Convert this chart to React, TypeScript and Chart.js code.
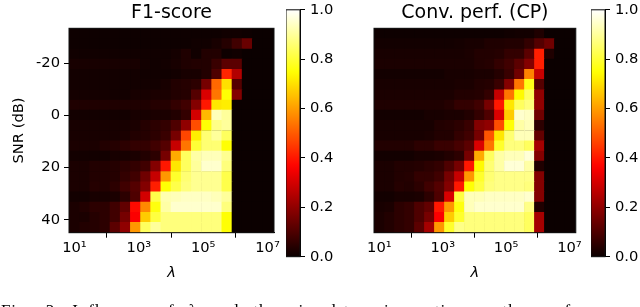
import React, { useEffect, useRef } from "react";
import { Chart, registerables } from "chart.js";
Chart.register(...registerables);

const lambdaExponents = [1, 1.316, 1.632, 1.947, 2.263, 2.579, 2.895, 3.211, 3.526, 3.842, 4.158, 4.474, 4.789, 5.105, 5.421, 5.737, 6.053, 6.368, 6.684, 7];
const snrCenters = [-31.5, -27.6, -23.6, -19.7, -15.8, -11.9, -7.9, -4, -0.1, 3.8, 7.8, 11.7, 15.6, 19.5, 23.5, 27.4, 31.3, 35.2, 39.1, 43];
const snrStep = 3.93;
const xTickValues = [1e1, 1e3, 1e5, 1e7];
const xTickLabels = ["10¹", "10³", "10⁵", "10⁷"];
const yTickValues = [-20, 0, 20, 40];
const cbarTicks = [0, 0.2, 0.4, 0.6, 0.8, 1];

const f1Rows = [
  [.005,.005,.005,.005,.005,.005,.005,.005,.005,.005,.005,.005,.005,.005,.005,.01,.01,.005,0,0],
  [.005,.005,.005,.005,.005,.005,.005,.005,.005,.005,.005,.005,.01,.01,.02,.04,.08,.14,0,0],
  [.01,.01,.01,.01,.01,.01,.01,.01,.01,.01,.015,.03,.01,.035,.035,.005,.01,0,0,0],
  [.02,.02,.02,.02,.02,.02,.02,.012,.01,.012,.02,.03,.035,.035,.07,.12,.12,0,0,0],
  [.012,.012,.012,.012,.012,.012,.012,.01,.01,.01,.012,.02,.02,.035,.1,.42,.25,0,0,0],
  [.012,.012,.012,.012,.012,.012,.012,.012,.012,.02,.035,.04,.05,.16,.52,.7,.11,0,0,0],
  [.015,.015,.015,.015,.012,.012,.02,.02,.025,.025,.035,.04,.11,.31,.54,.75,.18,0,0,0],
  [.03,.03,.03,.03,.03,.03,.03,.03,.04,.04,.06,.08,.18,.4,.71,.72,0,0,0,0],
  [.012,.012,.012,.012,.012,.012,.02,.02,.025,.025,.035,.06,.3,.64,.93,.9,0,0,0,0],
  [.02,.02,.02,.02,.02,.02,.025,.04,.05,.06,.1,.2,.48,.75,.88,.9,0,0,0,0],
  [.02,.02,.02,.02,.02,.025,.035,.04,.05,.07,.16,.47,.72,.86,.9,.84,0,0,0,0],
  [.025,.025,.025,.035,.04,.05,.06,.06,.08,.11,.28,.54,.8,.86,.86,.75,0,0,0,0],
  [.012,.012,.012,.012,.02,.02,.025,.035,.05,.16,.62,.84,.91,.93,.93,.89,0,0,0,0],
  [.025,.025,.035,.035,.04,.05,.06,.08,.18,.4,.71,.84,.9,.95,.95,.87,0,0,0,0],
  [.025,.025,.035,.035,.04,.06,.08,.15,.28,.59,.79,.86,.89,.89,.89,.82,0,0,0,0],
  [.025,.025,.04,.035,.05,.08,.11,.18,.41,.75,.82,.87,.89,.89,.89,.82,0,0,0,0],
  [.012,.012,.02,.02,.025,.05,.1,.3,.82,.92,.93,.94,.94,.94,.93,.9,0,0,0,0],
  [.025,.035,.05,.05,.08,.13,.38,.57,.76,.91,.95,.95,.95,.95,.95,.87,0,0,0,0],
  [.025,.025,.04,.05,.08,.16,.36,.67,.81,.87,.87,.87,.87,.87,.87,.75,0,0,0,0],
  [.025,.035,.04,.05,.12,.2,.59,.84,.9,.87,.87,.87,.87,.87,.87,.75,0,0,0,0],
];

const cpRows = [
  [.005,.005,.005,.005,.005,.005,.005,.005,.005,.005,.005,.005,.005,.01,.012,.012,.03,0,0,0],
  [.012,.012,.012,.012,.012,.012,.012,.012,.015,.02,.02,.03,.03,.035,.035,.06,.11,.15,0,0],
  [.02,.02,.02,.02,.02,.02,.02,.02,.02,.025,.035,.035,.04,.06,.06,.12,.41,.03,0,0],
  [.025,.025,.025,.025,.025,.025,.025,.025,.025,.025,.035,.04,.06,.08,.12,.18,.41,0,0,0],
  [.012,.012,.012,.012,.012,.012,.012,.02,.02,.02,.025,.025,.04,.07,.15,.56,.28,0,0,0],
  [.02,.02,.02,.02,.02,.02,.02,.02,.025,.025,.035,.04,.07,.18,.54,.77,.11,0,0,0],
  [.025,.025,.025,.025,.025,.025,.025,.025,.035,.035,.04,.06,.28,.54,.74,.84,.2,0,0,0],
  [.03,.03,.03,.03,.03,.03,.03,.04,.06,.06,.08,.16,.4,.71,.84,.87,.2,0,0,0],
  [.012,.012,.012,.012,.012,.02,.02,.025,.025,.035,.06,.1,.31,.67,.95,.94,.15,0,0,0],
  [.02,.02,.02,.02,.02,.02,.035,.04,.05,.07,.18,.2,.48,.75,.91,.93,.05,0,0,0],
  [.02,.02,.02,.02,.02,.025,.035,.035,.06,.08,.16,.49,.71,.86,.93,.93,.13,0,0,0],
  [.035,.035,.035,.035,.05,.05,.07,.07,.09,.12,.31,.54,.79,.87,.87,.84,.23,0,0,0],
  [.012,.012,.012,.012,.02,.02,.025,.035,.05,.16,.62,.84,.91,.93,.93,.96,.18,0,0,0],
  [.025,.025,.035,.035,.04,.05,.06,.1,.16,.4,.74,.86,.91,.96,.96,.91,.03,0,0,0],
  [.025,.025,.035,.04,.06,.06,.08,.16,.28,.59,.79,.86,.88,.88,.88,.88,.18,0,0,0],
  [.025,.025,.04,.035,.05,.08,.11,.18,.4,.75,.81,.87,.88,.88,.88,.87,.18,0,0,0],
  [.012,.012,.02,.02,.025,.05,.1,.31,.81,.93,.93,.94,.94,.94,.94,.95,.18,0,0,0],
  [.02,.025,.05,.06,.1,.13,.4,.59,.76,.93,.95,.95,.95,.95,.95,.88,.03,0,0,0],
  [.025,.035,.05,.06,.1,.16,.36,.67,.79,.87,.87,.87,.87,.87,.87,.84,.23,0,0,0],
  [.025,.035,.05,.06,.12,.23,.59,.79,.88,.87,.87,.87,.87,.87,.87,.84,.23,0,0,0],
];

const clamp01 = (v: number) => Math.max(0, Math.min(1, v));
function hot(v: number) {
  const r = clamp01(0.0416 + (v / 0.365079) * 0.9584);
  const g = clamp01((v - 0.365079) / (0.746032 - 0.365079));
  const b = clamp01((v - 0.746032) / (1 - 0.746032));
  return `rgb(${Math.round(r * 255)},${Math.round(g * 255)},${Math.round(b * 255)})`;
}

const frame = {
  id: "frame",
  beforeDatasetsDraw(chart: any) {
    const { ctx, chartArea: a } = chart;
    ctx.save();
    ctx.fillStyle = hot(0);
    ctx.fillRect(a.left, a.top, a.right - a.left, a.bottom - a.top);
    ctx.restore();
  },
  afterDatasetsDraw(chart: any) {
    const { ctx, chartArea: a } = chart;
    ctx.save();
    ctx.strokeStyle = "#111";
    ctx.lineWidth = 1;
    ctx.strokeRect(a.left, a.top, a.right - a.left, a.bottom - a.top);
    ctx.restore();
  },
};

const FONT = "'DejaVu Sans'";
const INK = "#000";

function heatConfig(rows: number[][], title: string, showY: boolean, areaLeft: number, canvasW: number) {
  const points: any[] = [];
  const colors: string[] = [];
  rows.forEach((row, j) =>
    row.forEach((v, i) => {
      points.push({ x: Math.pow(10, lambdaExponents[i]), y: [snrCenters[j] - snrStep / 2, snrCenters[j] + snrStep / 2] });
      colors.push(hot(v));
    })
  );
  const padLeft = showY ? 10 : 0;
  return {
    type: "bar",
    data: { datasets: [{ data: points, backgroundColor: colors, borderWidth: 0, barPercentage: 1, categoryPercentage: 1 }] },
    plugins: [frame],
    options: {
      animation: false,
      responsive: false,
      layout: { padding: { left: padLeft, right: canvasW - areaLeft - 205, top: 0, bottom: 24.7 } },
      plugins: {
        legend: { display: false },
        tooltip: { enabled: false },
        title: { display: true, fullSize: false, text: title, color: INK, font: { family: FONT, size: 19, weight: "normal" }, padding: { top: 1.6, bottom: 3.9 } },
      },
      scales: {
        x: {
          type: "logarithmic",
          min: Math.pow(10, 0.83),
          max: Math.pow(10, 7.2),
          grid: { drawOnChartArea: false, tickLength: 5, tickColor: INK },
          border: { color: INK },
          afterBuildTicks: (s: any) => { s.ticks = xTickValues.map((value) => ({ value })); },
          afterFit: (s: any) => { s.height = 49.6; },
          ticks: {
            color: INK, autoSkip: false, maxRotation: 0, padding: 2,
            font: { family: FONT, size: 14.7 },
            callback: (v: number) => xTickLabels[xTickValues.indexOf(v)] ?? "",
          },
          title: { display: true, text: "λ", color: INK, font: { family: FONT, size: 14.7, style: "italic" }, padding: { top: 6, bottom: 0 } },
        },
        y: {
          min: -33.5,
          max: 45,
          reverse: true,
          grid: { drawOnChartArea: false, drawTicks: showY, tickLength: showY ? 5 : 0, tickColor: INK },
          border: { color: INK },
          afterBuildTicks: (s: any) => { s.ticks = yTickValues.map((value) => ({ value })); },
          afterFit: (s: any) => { s.width = areaLeft - padLeft; },
          ticks: { color: INK, padding: 4, font: { family: FONT, size: 14.7 }, display: showY },
          title: { display: showY, text: "SNR (dB)", color: INK, font: { family: FONT, size: 14.7 }, padding: 0 },
        },
      },
    },
  };
}

function cbarConfig() {
  return {
    type: "bar",
    data: {
      labels: [""],
      datasets: [{
        data: [[0, 1]],
        borderWidth: 0,
        barPercentage: 1,
        categoryPercentage: 1,
        backgroundColor: (c: any) => {
          const a = c.chart.chartArea;
          if (!a) return "#000";
          const g = c.chart.ctx.createLinearGradient(0, a.bottom, 0, a.top);
          for (let k = 0; k <= 40; k++) g.addColorStop(k / 40, hot(k / 40));
          return g;
        },
      }],
    },
    plugins: [frame],
    options: {
      animation: false,
      responsive: false,
      layout: { padding: { left: 0, right: 0, top: 0, bottom: 51.3 } },
      plugins: { legend: { display: false }, tooltip: { enabled: false }, title: { display: false } },
      scales: {
        x: { display: false },
        y: {
          position: "right",
          min: 0,
          max: 1,
          grid: { drawOnChartArea: false, tickLength: 5, tickColor: INK },
          border: { color: INK },
          afterBuildTicks: (s: any) => { s.ticks = cbarTicks.map((value) => ({ value })); },
          afterFit: (s: any) => { s.width = 40; },
          ticks: { color: INK, padding: 5, font: { family: FONT, size: 14.7 }, callback: (v: number) => v.toFixed(1) },
        },
      },
    },
  };
}

function Panel({ config, left, width, top = 0, height = 307 }: { config: any; left: number; width: number; top?: number; height?: number }) {
  const ref = useRef<HTMLCanvasElement>(null);
  useEffect(() => {
    const chart = new Chart(ref.current as HTMLCanvasElement, config);
    return () => chart.destroy();
  }, []);
  return <canvas ref={ref} width={width} height={height} style={{ position: "absolute", left, top, width, height }} />;
}

export default function App() {
  return (
    <div style={{ position: "absolute", left: 0, top: 0, width: 640, height: 307, overflow: "hidden", background: "#fff", filter: "blur(0.45px)" }}>
      <Panel config={heatConfig(f1Rows, "F1-score", true, 69, 284)} left={0} width={284} />
      <Panel config={cbarConfig()} left={286} width={54} top={-4.5} height={312} />
      <Panel config={heatConfig(cpRows, "Conv. perf. (CP)", false, 30, 240)} left={344} width={240} />
      <Panel config={cbarConfig()} left={591} width={54} top={-4.5} height={312} />
      <div style={{ position: "absolute", left: 1, top: 301, width: 700, whiteSpace: "nowrap", fontFamily: "'Liberation Serif'", fontSize: 17, color: "#000", wordSpacing: 9, letterSpacing: 0.9 }}>
        Fig. 3.<span style={{ marginLeft: 12 }}>Influence of λ and the signal-to-noise ratio on the performance</span>
      </div>
    </div>
  );
}
